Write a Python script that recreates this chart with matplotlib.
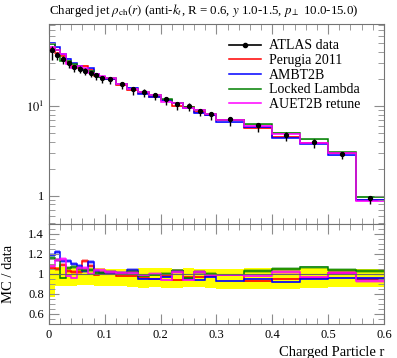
import numpy as np
import matplotlib
matplotlib.use("Agg")
import matplotlib.pyplot as plt
from matplotlib.lines import Line2D
from matplotlib.ticker import MultipleLocator, FixedLocator, FixedFormatter, NullFormatter, LogLocator, FormatStrFormatter

plt.rcParams["font.family"] = ["Liberation Serif", "DejaVu Serif"]
plt.rcParams["mathtext.fontset"] = "stix"

# bin edges in r
edges = [0.0, 0.01, 0.02, 0.03, 0.04, 0.05, 0.06, 0.07, 0.08, 0.09, 0.1,
         0.12, 0.14, 0.16, 0.18, 0.2, 0.22, 0.24, 0.26, 0.28, 0.3,
         0.35, 0.4, 0.45, 0.5, 0.55, 0.6]

# ATLAS data, rho_ch(r)
data = [42, 37, 33.3, 29.8, 27.3, 26.0, 24.7, 23.4, 21.9, 20.6,
        20.0, 17.4, 15.3, 14.5, 13.3, 11.9, 10.5, 10.1, 8.9, 8.15,
        7.1, 6.1, 4.8, 4.0, 2.93, 0.94]
# relative data uncertainties (down / up)
err_down = [0.23, 0.12, 0.12, 0.12, 0.12, 0.11, 0.11, 0.11, 0.12, 0.12,
            0.12, 0.12, 0.13, 0.14, 0.13, 0.14, 0.14, 0.13, 0.13, 0.14,
            0.15, 0.15, 0.15, 0.14, 0.13, 0.13]
err_up = [0.10, 0.07, 0.07, 0.07, 0.06, 0.06, 0.06, 0.06, 0.06, 0.06,
          0.05, 0.05, 0.05, 0.06, 0.06, 0.06, 0.05, 0.06, 0.05, 0.05,
          0.05, 0.06, 0.06, 0.06, 0.05, 0.05]

# MC / data ratios
ratio_perugia = [1.06, 1.05, 1.09, 1.03, 1.02, 1.02, 1.13, 1.08, 0.99, 1.01,
                 1.00, 0.98, 0.98, 0.96, 0.95, 0.98, 0.94, 0.97, 0.97, 0.98,
                 0.99, 0.93, 0.95, 0.96, 1.01, 0.95]
ratio_ambt2b = [1.19, 1.22, 1.13, 1.13, 1.10, 1.08, 1.03, 1.12, 1.03, 1.01,
                1.01, 1.01, 1.04, 0.95, 0.95, 0.97, 1.03, 0.95, 0.94, 0.97,
                0.93, 0.95, 0.92, 0.95, 0.96, 0.955]
ratio_locked = [1.16, 1.14, 0.96, 1.06, 1.07, 1.05, 1.04, 1.04, 1.01, 1.01,
                1.02, 1.00, 1.02, 0.98, 0.99, 1.00, 1.03, 0.96, 1.02, 1.00,
                0.99, 1.03, 1.05, 1.065, 1.04, 1.03]
ratio_auet2b = [1.08, 1.14, 1.15, 0.98, 0.96, 1.06, 1.06, 1.00, 1.04, 1.04,
                1.02, 1.01, 1.01, 0.99, 1.00, 0.94, 1.02, 0.94, 1.02, 0.99,
                0.99, 0.98, 1.02, 0.97, 1.01, 0.925]

labels = ["Perugia 2011", "AMBT2B", "Locked Lambda", "AUET2B retune"]
colors = ["red", "blue", "green", "magenta"]
ratios = [ratio_perugia, ratio_ambt2b, ratio_locked, ratio_auet2b]
MC_REL_ERR = 0.015

edges = np.array(edges)
data = np.array(data)
err_down = np.array(err_down)
err_up = np.array(err_up)
centers = 0.5 * (edges[1:] + edges[:-1])

fig = plt.figure(figsize=(3.97, 3.58), dpi=100)
ax = fig.add_axes([0.1234, 0.3743, 0.8438, 0.5587])
axr = fig.add_axes([0.1234, 0.095, 0.8438, 0.2793], sharex=ax)

# main panel
for r, c in zip(ratios, colors):
    mc = data * np.array(r)
    ax.stairs(mc * (1 + MC_REL_ERR), edges, baseline=mc * (1 - MC_REL_ERR),
              fill=True, color=c, alpha=0.35, lw=0)
    ax.stairs(mc, edges, color=c, lw=1.1, baseline=None)
ax.errorbar(centers, data, yerr=[data * err_down, data * err_up], fmt="o",
            ms=2.8, color="black", elinewidth=1, capsize=0, zorder=5)

ax.set_yscale("log")
ax.set_xlim(0, 0.6)
ax.set_ylim(0.484, 82)
ax.yaxis.set_major_locator(FixedLocator([1, 10]))
ax.yaxis.set_major_formatter(FixedFormatter(["1", "$10^1$"]))
ax.yaxis.set_minor_locator(LogLocator(base=10, subs=np.arange(2, 10)))
ax.yaxis.set_minor_formatter(NullFormatter())
plt.setp(ax.get_xticklabels(), visible=False)
ax.set_title(r"Charged jet $\rho_\mathrm{ch}(r)$ (anti-$k_t$, R = 0.6, $y$ 1.0-1.5, $p_\perp$ 10.0-15.0)",
             fontsize=9.3, loc="left", pad=7)

handles = [Line2D([], [], color="black", marker="o", ms=3, lw=1.2)]
handles += [Line2D([], [], color=c, lw=1.1) for c in colors]
ax.legend(handles, ["ATLAS data"] + labels, loc="upper left",
          bbox_to_anchor=(0.5, 0.985), frameon=False, fontsize=10,
          handlelength=2.3, labelspacing=0.12, handletextpad=0.6)

# ratio panel
axr.stairs(1 + err_up, edges, baseline=1 - err_down, fill=True, color="yellow", lw=0)
axr.axhline(1, color="0.4", lw=0.8)
for r, c in zip(ratios, colors):
    r = np.array(r)
    axr.stairs(r * (1 + MC_REL_ERR), edges, baseline=r * (1 - MC_REL_ERR),
               fill=True, color=c, alpha=0.35, lw=0)
    axr.stairs(r, edges, color=c, lw=1.1, baseline=None)
axr.set_ylim(0.5, 1.5)
axr.yaxis.set_major_locator(FixedLocator([0.6, 0.8, 1.0, 1.2, 1.4]))
axr.yaxis.set_major_formatter(FormatStrFormatter("%g"))
axr.yaxis.set_minor_locator(MultipleLocator(0.05))
axr.xaxis.set_major_locator(MultipleLocator(0.1))
axr.xaxis.set_major_formatter(FormatStrFormatter("%g"))
axr.xaxis.set_minor_locator(MultipleLocator(0.02))
axr.set_ylabel("MC / data", fontsize=10.5)
axr.set_xlabel("Charged Particle r", fontsize=10.5, loc="right")

for a in (ax, axr):
    a.tick_params(which="both", direction="in", top=True, right=True,
                  color="0.55", labelsize=9)
    a.tick_params(which="major", length=7)
    a.tick_params(which="minor", length=4)
    for s in a.spines.values():
        s.set_color("0.45")
ax.xaxis.set_minor_locator(MultipleLocator(0.02))
ax.xaxis.set_major_locator(MultipleLocator(0.1))
axr.yaxis.set_label_coords(-0.1, 0.5)

fig.savefig("out.png", dpi=100)
